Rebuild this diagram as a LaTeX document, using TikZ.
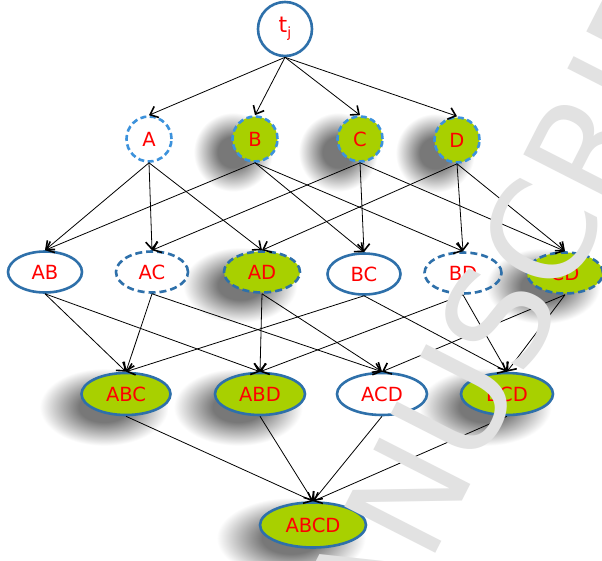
\documentclass[tikz,border=0pt]{standalone}
\usepackage{fontspec}
\setmainfont{DejaVu Sans}
\newfontfamily\wmfont{DejaVu Sans}
\usetikzlibrary{arrows.meta,shapes.geometric}
\definecolor{nodegreen}{RGB}{168,208,0}
\definecolor{darkblue}{RGB}{46,112,170}
\definecolor{lightblue}{RGB}{60,146,220}
\definecolor{wmgray}{RGB}{226,226,226}
\definecolor{shgray}{RGB}{120,120,120}
\pgfdeclareradialshading{softshadow}{\pgfpoint{0bp}{0bp}}{color(0bp)=(shgray); color(9bp)=(shgray); color(23bp)=(white); color(50bp)=(white)}
\pgfdeclarelayer{bg}
\pgfdeclarelayer{shadowlayer}
\pgfsetlayers{bg,shadowlayer,main}
\begin{document}
\begin{tikzpicture}[x=1pt,y=-1pt,
  lbl/.style={text=red, font=\fontsize{19.5}{20}\selectfont, inner sep=0pt, line width=2.6pt},
  circ/.style={lbl, circle, minimum size=45pt},
  ell/.style={lbl, ellipse, minimum width=#1, minimum height=41pt},
  solidb/.style={draw=darkblue},
  dashb/.style={draw=darkblue, dash pattern=on 7pt off 4pt},
  ldashb/.style={draw=lightblue, dash pattern=on 6pt off 3.5pt},
  gfill/.style={fill=nodegreen},
  arr/.style={-{Straight Barb[length=7pt,width=12pt,line width=1.6pt]}, line width=0.8pt},
  wm/.style={text=wmgray, inner sep=0pt, rotate=63, font=\wmfont\fontsize{140}{140}\selectfont},
]
\begin{pgfonlayer}{bg}
\fill[white] (0,0) rectangle (602,560);
\end{pgfonlayer}
\useasboundingbox (0,0) rectangle (602,560);
% level 0
\node[lbl, circle, minimum size=54pt, solidb] (tj) at (285,29) {{\fontsize{22}{22}\selectfont t}\raisebox{-5pt}{\fontsize{14}{14}\selectfont j}};
% level 1
\node[circ, ldashb] (A) at (149,139) {A};
\node[circ, ldashb, gfill] (B) at (255,139) {B};
\node[circ, ldashb, gfill] (C) at (360,139) {C};
\node[circ, ldashb, gfill] (D) at (457,140) {D};
% level 2
\node[ell=74pt, solidb] (AB) at (45,272) {AB};
\node[ell=72pt, dashb] (AC) at (152,272) {AC};
\node[ell=76pt, dashb, gfill] (AD) at (262,272) {AD};
\node[ell=73pt, solidb] (BC) at (364,274) {BC};
\node[ell=77pt, dashb] (BD) at (463,273) {BD};
\node[ell=76pt, dashb, gfill] (CD) at (565,273) {CD};
% level 3
\node[ell=89pt, minimum height=42pt, solidb, gfill] (ABC) at (126,394) {ABC};
\node[ell=90pt, minimum height=42pt, solidb, gfill] (ABD) at (260,394) {ABD};
\node[ell=90pt, minimum height=42pt, solidb] (ACD) at (382,394) {ACD};
\node[ell=92pt, minimum height=42pt, solidb, gfill] (BCD) at (507,394) {BCD};
% level 4
\node[ell=106pt, minimum height=45pt, solidb, gfill] (ABCD) at (313,525) {ABCD};
% soft shadows of the green nodes
\begin{pgfonlayer}{shadowlayer}
\foreach \n/\rx/\ry in {B/43/43,C/43/43,D/43/43,AD/62/41,CD/62/41,ABC/70/42,ABD/70/42,BCD/72/42,ABCD/81/44}
  \shade[shading=softshadow] ([shift={(-22,13)}]\n.center) ellipse [x radius=\rx, y radius=\ry];
\end{pgfonlayer}
% edges
\foreach \t in {A,B,C,D} \draw[arr] (tj.south) -- (\t.north);
\foreach \s/\t in {A/AB,A/AC,A/AD,B/AB,B/BC,B/BD,C/AC,C/BC,C/CD,D/AD,D/BD,D/CD,
  AB/ABC,AB/ABD,AC/ABC,AC/ACD,AD/ABD,AD/ACD,BC/ABC,BC/BCD,BD/ABD,BD/BCD,CD/ACD,CD/BCD,
  ABC/ABCD,ABD/ABCD,ACD/ABCD,BCD/ABCD}
  \draw[arr] (\s.south) -- (\t.north);
% watermark
\node[wm, anchor=base east] (wm1) at (608,214) {ACCEPTED MANUSC};
\node[wm, anchor=base west] (wm2) at (608,214) {RIPT};
\end{tikzpicture}
\end{document}
